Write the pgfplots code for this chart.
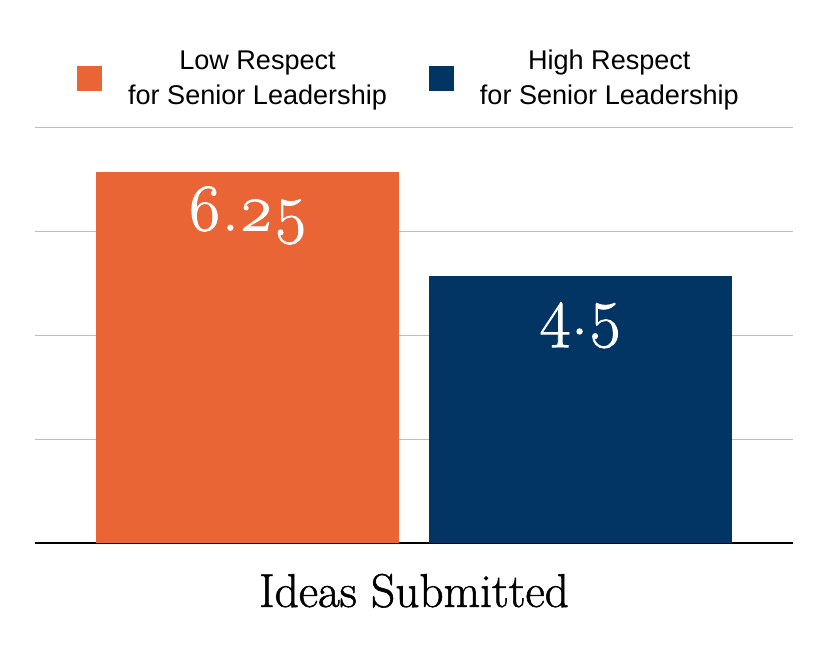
\documentclass[border=0pt]{standalone}
\usepackage{fontspec}
\usepackage{pgfplots}
\pgfplotsset{compat=1.18}
\newfontfamily\legfont{Liberation Sans}
\newfontfamily\numfont[Numbers=OldStyle, FakeBold=1.2]{Latin Modern Roman}
\definecolor{lowc}{RGB}{233,101,54}
\definecolor{highc}{RGB}{2,53,99}
\definecolor{gridc}{RGB}{190,190,190}
\begin{document}
\begin{tikzpicture}
\useasboundingbox (-26.25pt,-87.75pt) rectangle (597.75pt,407.25pt);
\begin{axis}[
  at={(0pt,0pt)}, anchor=south west,
  scale only axis, width=568.5pt, height=311.25pt,
  xmin=-0.638, xmax=1.638, ymin=0, ymax=7,
  ytick={1.75,3.5,5.25,7}, yticklabels={}, xtick=\empty,
  ymajorgrids, grid style={gridc, line width=0.75pt},
  axis line style={draw=none}, major tick length=0pt,
  extra y ticks={0}, extra y tick labels={},
  extra y tick style={grid style={black, line width=0.9pt}},
  ybar, bar width=227.25pt, bar shift=0pt,
  point meta=explicit symbolic,
  nodes near coords={\pgfplotspointmeta},
  every node near coord/.append style={anchor=base, yshift=-43.5pt, text=white,
     font=\numfont\fontsize{50}{50}\selectfont},
  xlabel={Ideas Submitted},
  xlabel style={at={(axis description cs:0.5,-0.154)}, anchor=base,
     font=\numfont\fontsize{35.5}{40}\selectfont},
  legend columns=2,
  legend image code/.code={\fill[#1] (0pt,-9.375pt) rectangle (18.75pt,9.375pt);},
  legend style={at={(0.492,1.1193)}, anchor=center, draw=none, fill=none,
     font=\legfont\fontsize{20.3}{26}\selectfont,
     nodes={inner sep=0pt},
     cells={align=center},
     /tikz/every odd column/.append style={column sep=19.5pt},
     /tikz/every even column/.append style={column sep=31.5pt}},
]
\addplot[fill=lowc, draw=none] coordinates {(0,6.25) [6.25]};
\addlegendentry{Low Respect\\for Senior Leadership}
\addplot[fill=highc, draw=none] coordinates {(1,4.5) [4.5]};
\addlegendentry{High Respect\\for Senior Leadership}
\end{axis}
\end{tikzpicture}
\end{document}
